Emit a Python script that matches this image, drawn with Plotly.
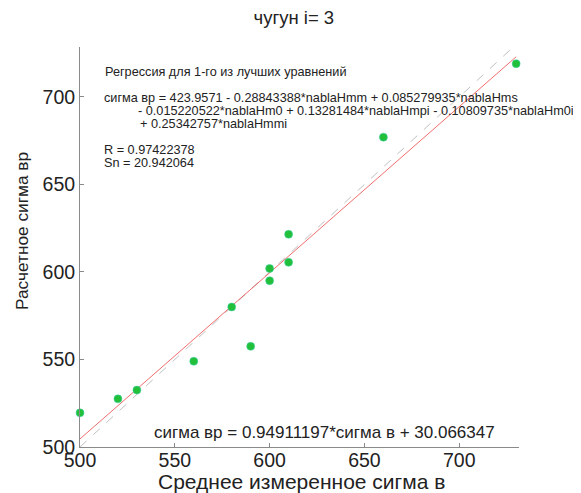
import plotly.graph_objects as go

# Data
sigma_meas = [500, 520, 530, 560, 590, 580, 600, 600, 610, 610, 660, 730]
sigma_calc = [519.5, 527.5, 532.5, 549, 557.5, 580, 595, 602, 605.5, 621.5, 677, 719]
fit_slope = 0.94911197
fit_intercept = 30.066347
fit_x = [500, 730]
diag_x = [500, 730]
x_ticks = [500, 550, 600, 650, 700]
y_ticks = [500, 550, 600, 650, 700]

FONT = "Liberation Sans, Arial, sans-serif"

fig = go.Figure()
fig.add_trace(go.Scatter(x=diag_x, y=diag_x, mode="lines",
                         line=dict(color="rgba(150,150,150,0.6)", width=1, dash="dash"),
                         hoverinfo="skip", showlegend=False))
fig.add_trace(go.Scatter(x=fit_x, y=[fit_slope * v + fit_intercept for v in fit_x], mode="lines",
                         line=dict(color="rgba(235,60,60,0.75)", width=1),
                         showlegend=False))
fig.add_trace(go.Scatter(x=sigma_meas, y=sigma_calc, mode="markers",
                         marker=dict(color="#22c03a", size=8, line=dict(color="#3ad0b0", width=0.5)),
                         cliponaxis=False, showlegend=False))

ax_common = dict(showgrid=False, zeroline=False, showline=True, linecolor="#8a8a8a", linewidth=1,
                 ticks="inside", ticklen=4, tickcolor="#8a8a8a", automargin=False,
                 tickfont=dict(family=FONT, size=19.5, color="#222"))
fig.update_xaxes(range=[500, 731.5], tickvals=x_ticks, ticklabelstandoff=-4, **ax_common)
fig.update_yaxes(range=[500, 728.5], tickvals=y_ticks, **ax_common)

small = dict(family=FONT, size=12.7, color="#222")
anns = [
    ("Регрессия для 1-го из лучших уравнений", 0.052, 0.9375),
    ("сигма вр = 423.9571 - 0.28843388*nablaHmm + 0.085279935*nablaHms", 0.05, 0.8725),
    ("- 0.015220522*nablaHm0 + 0.13281484*nablaHmpi - 0.10809735*nablaHm0i", 0.128, 0.84),
    ("+ 0.25342757*nablaHmmi", 0.132, 0.8075),
    ("R = 0.97422378", 0.05, 0.7425),
    ("Sn = 20.942064", 0.05, 0.71),
]
for txt, xp, yp in anns:
    fig.add_annotation(text=txt, x=xp, y=yp, xref="paper", yref="paper",
                       xanchor="left", yanchor="middle", showarrow=False, font=small)
fig.add_annotation(text="сигма вр = 0.94911197*сигма в + 30.066347", x=0.557, y=0.0375,
                   xref="paper", yref="paper", xanchor="center", yanchor="middle",
                   showarrow=False, font=dict(family=FONT, size=17, color="#222"))
# axis titles
fig.add_annotation(text="Среднее измеренное сигма в", x=0.504, y=-0.087,
                   xref="paper", yref="paper", xanchor="center", yanchor="middle",
                   showarrow=False, font=dict(family=FONT, size=21, color="#222"))
fig.add_annotation(text="Расчетное сигма вр", x=-0.132, y=0.54, textangle=-90,
                   xref="paper", yref="paper", xanchor="center", yanchor="middle",
                   showarrow=False, font=dict(family=FONT, size=17.3, color="#222"))

fig.update_layout(
    width=581, height=493,
    margin=dict(l=72, r=70, t=39, b=54),
    paper_bgcolor="white", plot_bgcolor="white",
    title=dict(text="чугун i= 3", x=0.492, xanchor="center", y=0.98, yanchor="middle",
               font=dict(family=FONT, size=18.5, color="#222")),
)
fig.write_html("out.html")
